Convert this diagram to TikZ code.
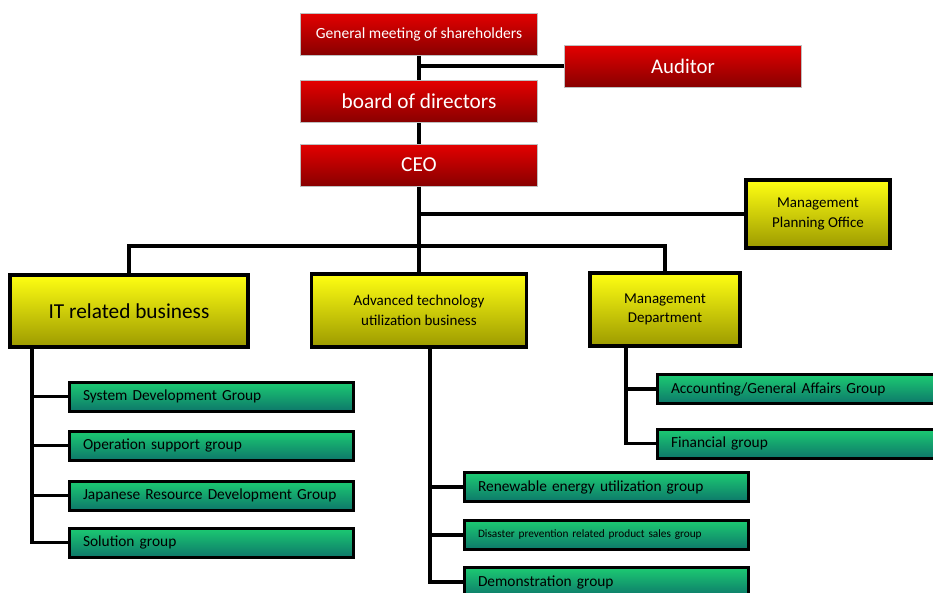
\documentclass[tikz,border=0pt]{standalone}
\usepackage{fontspec}
\setmainfont{Carlito}
\definecolor{redtop}{HTML}{E40000}
\definecolor{redbot}{HTML}{880000}
\definecolor{yeltop}{HTML}{FFFF12}
\definecolor{yelbot}{HTML}{9C9A00}
\definecolor{grntop}{HTML}{1CCB72}
\definecolor{grnbot}{HTML}{0D786A}

\begin{document}
\begin{tikzpicture}[x=1pt,y=-1pt,
  redbox/.style={draw=black!25,line width=1pt,top color=redtop,bottom color=redbot,
    text=white,minimum width=237pt,minimum height=42pt,inner sep=0pt},
  yelbox/.style={draw=black,line width=3.5pt,top color=yeltop,bottom color=yelbot,
    align=center,inner sep=0pt,font=\fontsize{15}{19.5}\selectfont},
  grnbox/.style={draw=black,line width=3pt,top color=grntop,bottom color=grnbot,
    text width=256pt,align=left,inner xsep=14pt,inner ysep=0pt,minimum height=29pt,
    font=\fontsize{15.4}{18}\selectfont},
  link/.style={line width=3.8pt}]
\useasboundingbox (0,0) rectangle (933,592);
\clip (0,0) rectangle (933,592);

% top of the chart
\node[redbox,font=\fontsize{15.5}{18}\selectfont] (gm)  at (419,34)    {General meeting of shareholders};
\node[redbox,font=\fontsize{20.8}{24}\selectfont] (aud) at (683,66)    {Auditor};
\node[redbox,font=\fontsize{21.3}{24}\selectfont] (bod) at (419,101.5) {board of directors};
\node[redbox,font=\fontsize{21.3}{24}\selectfont] (ceo) at (419,165)   {CEO};

% divisions
\node[yelbox,minimum width=144pt,minimum height=68pt] (mpo) at (818,214)   {Management\\Planning Office};
\node[yelbox,minimum width=238pt,minimum height=72pt,font=\fontsize{21.3}{24}\selectfont]
                                                  (it)  at (129,311)   {IT related business};
\node[yelbox,minimum width=215pt,minimum height=73pt] (adv) at (419,310.5) {Advanced technology\\utilization business};
\node[yelbox,minimum width=150pt,minimum height=73pt] (mgd) at (665,309.5) {Management\\Department};

% groups
\node[grnbox] (g1) at (211,396.5) {System Development Group};
\node[grnbox] (g2) at (211,445.5) {Operation support group};
\node[grnbox] (g3) at (211,495.5) {Japanese Resource Development Group};
\node[grnbox] (g4) at (211,542.5) {Solution group};
\node[grnbox] (r1) at (606,487)   {Renewable energy utilization group};
\node[grnbox,font=\fontsize{11.3}{13}\selectfont]
              (r2) at (606,535)   {Disaster prevention related product sales group};
\node[grnbox] (r3) at (606,582)   {Demonstration group};
\node[grnbox] (m1) at (799,389)   {Accounting/General Affairs Group};
\node[grnbox] (m2) at (799,443.5) {Financial group};

\coordinate (bus) at (419,246);
\coordinate (itx) at (32,347);
\coordinate (advx) at (430,347);
\coordinate (mgx) at (626,346);

\draw[link] (gm) -- (bod) (bod) -- (ceo);
\draw[link] (aud.west) -- (aud.west -| gm.south);
\draw[link] (ceo.south) -- (adv.north);
\draw[link] (mpo.west) -- (mpo.west -| ceo.south);
\draw[link] (it.north) |- (bus) -| (mgd.north);
\draw[link] (itx) |- (g4.west);
\foreach \g in {g1,g2,g3} \draw[link] (\g.west) -- (\g.west -| itx);
\draw[link] (advx) |- (r3.west);
\foreach \g in {r1,r2} \draw[link] (\g.west) -- (\g.west -| advx);
\draw[link] (mgx) |- (m2.west);
\draw[link] (m1.west) -- (m1.west -| mgx);
\end{tikzpicture}
\end{document}
